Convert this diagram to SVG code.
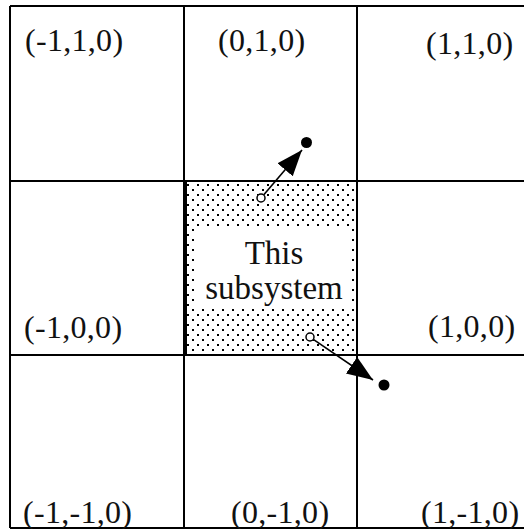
<svg xmlns="http://www.w3.org/2000/svg" width="524" height="529" viewBox="0 0 524 529">
  <style>
    .grid { stroke: #000; stroke-width: 2; fill: none; }
    .lbl { font-family: "Liberation Serif", "Times New Roman", serif; font-size: 32px; letter-spacing: 0.3px; fill: #111; }
    .ctr { font-family: "Liberation Serif", "Times New Roman", serif; font-size: 33px; fill: #111; text-anchor: middle; }
    .conn { stroke: #000; stroke-width: 1.6; fill: none; }
    .open { fill: #fff; stroke: #000; stroke-width: 1.5; }
    .dot { fill: #000; }
  </style>
  <defs>
    <pattern id="stipple" patternUnits="userSpaceOnUse" x="186" y="183" width="10" height="10">
      <rect x="1" y="1" width="2" height="2" fill="#000"/>
      <rect x="6" y="6" width="2" height="2" fill="#000"/>
    </pattern>
    <marker id="head" markerUnits="userSpaceOnUse" markerWidth="28" markerHeight="22" refX="26" refY="10" orient="auto">
      <path d="M0,0 L26,10 L0,20 z" fill="#000"/>
    </marker>
  </defs>
  <rect width="524" height="529" fill="#fff"/>

  <g id="grid">
    <line class="grid" x1="10" y1="6" x2="524" y2="6"/>
    <line class="grid" x1="10" y1="181" x2="524" y2="181"/>
    <line class="grid" x1="10" y1="355" x2="524" y2="355"/>
    <line class="grid" x1="10" y1="528" x2="524" y2="528"/>
    <line class="grid" x1="10" y1="6" x2="10" y2="528"/>
    <line class="grid" x1="184" y1="6" x2="184" y2="528"/>
    <line class="grid" x1="357" y1="6" x2="357" y2="528"/>
  </g>

  <g id="cell-m1-1">
    <text class="lbl" x="25" y="51">(-1,1,0)</text>
  </g>
  <g id="cell-0-1">
    <text class="lbl" x="218" y="51">(0,1,0)</text>
  </g>
  <g id="cell-1-1">
    <text class="lbl" x="426" y="54">(1,1,0)</text>
  </g>
  <g id="cell-m1-0">
    <text class="lbl" x="24" y="338">(-1,0,0)</text>
  </g>
  <g id="cell-this">
    <rect x="185" y="182" width="171" height="172" fill="url(#stipple)"/>
    <rect x="196" y="226" width="156" height="80" fill="#fff"/>
    <line x1="185" y1="181" x2="185" y2="355" stroke="#000" stroke-width="4"/>
    <text class="ctr" x="274" y="264">This</text>
    <text class="ctr" x="274" y="299">subsystem</text>
  </g>
  <g id="cell-1-0">
    <text class="lbl" x="428" y="337">(1,0,0)</text>
  </g>
  <g id="cell-m1-m1">
    <text class="lbl" x="23" y="523">(-1,-1,0)</text>
  </g>
  <g id="cell-0-m1">
    <text class="lbl" x="231" y="523">(0,-1,0)</text>
  </g>
  <g id="cell-1-m1">
    <text class="lbl" x="421" y="523">(1,-1,0)</text>
  </g>

  <g id="connectors">
    <line class="conn" x1="263.6" y1="195" x2="302" y2="150" marker-end="url(#head)"/>
    <circle class="open" cx="261" cy="198" r="4"/>
    <circle class="dot" cx="306.5" cy="142.5" r="5.5"/>
    <line class="conn" x1="313.3" y1="339.3" x2="373" y2="380" marker-end="url(#head)"/>
    <circle class="open" cx="310" cy="337" r="4"/>
    <circle class="dot" cx="384" cy="385" r="5.5"/>
  </g>
</svg>
